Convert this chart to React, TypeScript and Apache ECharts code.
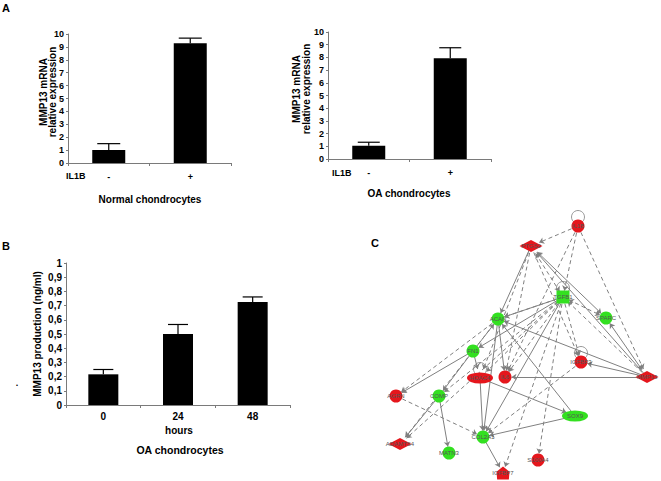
import React, { useEffect, useRef } from "react";
import * as echarts from "echarts";

// Panel A – normal chondrocytes
const normCats = ["-", "+"];
const normVals = [1.0, 9.28];
const normErr = [0.5, 0.4];
// Panel A – OA chondrocytes
const oaCats = ["-", "+"];
const oaVals = [1.05, 7.93];
const oaErr = [0.27, 0.83];
// Panel B – time course
const timeCats = ["0", "24", "48"];
const prodVals = [0.216, 0.5, 0.726];
const prodErr = [0.034, 0.067, 0.035];

// Panel C – network nodes
const nodeNames = ["IL1B", "PTGS2", "TGFB1", "SPARC", "ACAN", "FN1", "IGFBP3", "MMP13", "HDAC4", "IL6", "AGRN", "COMP", "SOX9", "COL2A1", "ADAMTS4", "MATN3", "S100A4", "IGFBP7"];
const nodeX = [578, 531, 563, 606, 498, 473, 581, 647, 480, 505, 396, 439, 575, 483, 400, 449, 538, 503];
const nodeY = [226, 246, 297, 318, 319, 351, 362, 377, 378, 377, 396, 396, 416, 437, 444, 453, 460, 473];
const nodeUp = [1, 1, 0, 0, 0, 0, 1, 1, 1, 1, 1, 0, 0, 0, 1, 0, 1, 1];
const nodeShape = ["circle", "diamond", "rect", "circle", "circle", "circle", "circle", "diamond", "ellipse", "circle", "circle", "circle", "ellipse", "circle", "diamond", "circle", "circle", "house"];
const selfLoops = ["IL1B", "TGFB1", "IGFBP3", "HDAC4"];
// [source, target, dashed, bidirectional]
const links: [string, string, number, number][] = [
  ["IL1B", "PTGS2", 1, 0], ["IL1B", "TGFB1", 1, 0], ["IL1B", "MMP13", 1, 0], ["IL1B", "IL6", 1, 0],
  ["PTGS2", "ACAN", 0, 0], ["PTGS2", "IL6", 1, 0], ["PTGS2", "HDAC4", 1, 0], ["PTGS2", "TGFB1", 1, 1],
  ["PTGS2", "SPARC", 0, 1], ["MMP13", "PTGS2", 0, 0], ["PTGS2", "IGFBP3", 1, 0],
  ["TGFB1", "ACAN", 1, 0], ["TGFB1", "SPARC", 1, 1], ["TGFB1", "FN1", 0, 0], ["TGFB1", "HDAC4", 1, 0],
  ["TGFB1", "IL6", 1, 0], ["TGFB1", "COL2A1", 0, 0], ["TGFB1", "ADAMTS4", 1, 0], ["TGFB1", "COMP", 1, 0],
  ["TGFB1", "IGFBP3", 1, 0], ["TGFB1", "S100A4", 1, 0], ["TGFB1", "IGFBP7", 1, 0], ["MMP13", "TGFB1", 1, 0],
  ["TGFB1", "ACAN", 0, 0], ["SPARC", "MMP13", 0, 1], ["MMP13", "ACAN", 0, 0], ["MMP13", "IL6", 0, 0],
  ["MMP13", "IGFBP3", 0, 0], ["IGFBP3", "COL2A1", 1, 0], ["HDAC4", "COL2A1", 0, 0], ["HDAC4", "SOX9", 0, 0],
  ["ACAN", "IL6", 0, 0], ["SOX9", "ACAN", 0, 0], ["ACAN", "AGRN", 1, 0], ["FN1", "ACAN", 0, 0],
  ["FN1", "AGRN", 0, 0], ["FN1", "COMP", 0, 0], ["FN1", "HDAC4", 0, 0], ["ACAN", "ADAMTS4", 1, 0],
  ["COMP", "MATN3", 0, 0], ["COMP", "ADAMTS4", 0, 0], ["AGRN", "COL2A1", 1, 0], ["SOX9", "COL2A1", 0, 0],
  ["COL2A1", "IGFBP7", 0, 0], ["ACAN", "COL2A1", 0, 0],
];

const FONT = "'Liberation Sans', Arial, sans-serif";
const RED = "#e5161c";
const GREEN = "#33e020";
const AXIS = "#7a7a7a";

const symbolFor = (shape: string) => {
  if (shape === "ellipse") return "path://M0 5a5 5 0 1 0 10 0a5 5 0 1 0 -10 0z";
  if (shape === "house") return "path://M5 0L10 4L9.5 10L0.5 10L0 4Z";
  return shape;
};
const sizeFor = (shape: string) => {
  if (shape === "ellipse") return [26, 11];
  if (shape === "diamond") return [23, 12];
  if (shape === "rect") return [13, 13];
  if (shape === "house") return [13, 13];
  return 13;
};

const errorSeries = (xi: number, vals: number[], errs: number[], cap: number) => ({
  type: "custom",
  xAxisIndex: xi,
  yAxisIndex: xi,
  z: 5,
  data: vals.map((v, i) => [i, v, errs[i]]),
  renderItem: (params: any, api: any) => {
    const i = api.value(0);
    const v = api.value(1);
    const e = api.value(2);
    const b = api.coord([i, v]);
    const t = api.coord([i, v + e]);
    return {
      type: "group",
      children: [
        { type: "line", shape: { x1: b[0], y1: b[1], x2: t[0], y2: t[1] }, style: { stroke: "#000", lineWidth: 1.2 } },
        { type: "line", shape: { x1: t[0] - cap / 2, y1: t[1], x2: t[0] + cap / 2, y2: t[1] }, style: { stroke: "#000", lineWidth: 1.2 } },
      ],
    };
  },
});

const catAxis = (gi: number, data: string[], margin: number, fs: number) => ({
  type: "category",
  gridIndex: gi,
  data,
  axisLine: { show: true, lineStyle: { color: AXIS, width: 1 } },
  axisTick: { show: true, length: 3, lineStyle: { color: AXIS } },
  axisLabel: { color: "#000", fontWeight: "bold", fontSize: fs, margin, fontFamily: FONT },
});

const valAxis = (gi: number, max: number, interval: number, fs: number, fmt?: (v: number) => string) => ({
  type: "value",
  gridIndex: gi,
  min: 0,
  max,
  interval,
  splitLine: { show: false },
  axisLine: { show: true, lineStyle: { color: AXIS, width: 1 } },
  axisTick: { show: true, length: 2, lineStyle: { color: AXIS } },
  axisLabel: { color: "#000", fontWeight: "bold", fontSize: fs, margin: 4, fontFamily: FONT, formatter: fmt },
});

const txt = (text: string, x: number, y: number, fs: number, extra: any = {}) => ({
  type: "text",
  x,
  y,
  ...extra,
  style: {
    text,
    fill: "#000",
    font: `bold ${fs}px ${FONT}`,
    textAlign: extra.align || "center",
    textVerticalAlign: "middle",
    lineHeight: extra.lh || fs,
  },
});

export default function App() {
  const ref = useRef<HTMLDivElement>(null);
  useEffect(() => {
    if (!ref.current) return;
    const chart = echarts.init(ref.current, undefined, { renderer: "svg" });
    const nodes = nodeNames.map((n, i) => ({
      name: n,
      value: [nodeX[i], nodeY[i]],
      symbol: symbolFor(nodeShape[i]),
      symbolSize: sizeFor(nodeShape[i]),
      itemStyle: { color: nodeUp[i] ? RED : GREEN },
    }));
    const graphLinks = links.map(([s, t, d, b]) => ({
      source: s,
      target: t,
      symbol: [b ? "arrow" : "none", "arrow"],
      symbolSize: 5,
      lineStyle: { type: d ? [4, 3] : "solid" },
    }));
    const loopData = selfLoops.map((n) => {
      const i = nodeNames.indexOf(n);
      return [nodeX[i], nodeY[i]];
    });
    const fmtComma = (v: number) => String(Number(v.toFixed(1))).replace(".", ",");

    chart.setOption({
      animation: false,
      backgroundColor: "#fff",
      grid: [
        { left: 68, top: 34, width: 163, height: 129 },
        { left: 328, top: 32, width: 163, height: 127 },
        { left: 66, top: 263, width: 224, height: 142 },
        { left: 0, top: 0, width: 661, height: 481 },
      ],
      xAxis: [
        catAxis(0, normCats, 9, 9),
        catAxis(1, oaCats, 9, 9),
        catAxis(2, timeCats, 6, 10),
        { type: "value", gridIndex: 3, min: 0, max: 661, show: false },
      ],
      yAxis: [
        valAxis(0, 10, 1, 9),
        valAxis(1, 10, 1, 9),
        valAxis(2, 1, 0.1, 10, fmtComma),
        { type: "value", gridIndex: 3, min: 0, max: 481, inverse: true, show: false },
      ],
      series: [
        { type: "bar", xAxisIndex: 0, yAxisIndex: 0, data: normVals, barWidth: 33, itemStyle: { color: "#000" } },
        errorSeries(0, normVals, normErr, 23),
        { type: "bar", xAxisIndex: 1, yAxisIndex: 1, data: oaVals, barWidth: 33, itemStyle: { color: "#000" } },
        errorSeries(1, oaVals, oaErr, 22),
        { type: "bar", xAxisIndex: 2, yAxisIndex: 2, data: prodVals, barWidth: 30, itemStyle: { color: "#000" } },
        errorSeries(2, prodVals, prodErr, 20),
        {
          type: "scatter",
          xAxisIndex: 3,
          yAxisIndex: 3,
          z: 1,
          data: loopData,
          symbol: "circle",
          symbolSize: 13,
          symbolOffset: [0, -9],
          itemStyle: { color: "rgba(0,0,0,0)", borderColor: "#808080", borderWidth: 1 },
        },
        {
          type: "graph",
          coordinateSystem: "cartesian2d",
          xAxisIndex: 3,
          yAxisIndex: 3,
          z: 2,
          data: nodes,
          links: graphLinks,
          edgeSymbol: ["none", "arrow"],
          edgeSymbolSize: 5,
          lineStyle: { color: "#808080", width: 1, opacity: 1, curveness: 0 },
          label: { show: true, position: "inside", fontSize: 6, color: "#555", fontFamily: FONT },
        },
      ],
      graphic: [
        txt("A", 2, 8, 11, { align: "left" }),
        txt("B", 2, 246, 11, { align: "left" }),
        txt("C", 371, 243, 11, { align: "left" }),
        txt("MMP13 mRNA\nrelative expression", 48, 92, 10, { rotation: Math.PI / 2, lh: 9 }),
        txt("MMP13 mRNA\nrelative expression", 301, 89, 10, { rotation: Math.PI / 2, lh: 10 }),
        txt("MMP13 production (ng/ml)", 37, 334, 10, { rotation: Math.PI / 2 }),
        txt("IL1B", 66, 176, 9, { align: "left" }),
        txt("IL1B", 332, 173, 9, { align: "left" }),
        txt("Normal chondrocytes", 150, 199, 10),
        txt("OA chondrocytes", 409, 193, 10),
        txt("hours", 179, 430, 10),
        txt("OA chondrocytes", 180, 450, 10.5),
        txt(".", 17, 383, 9),
      ],
    });
    return () => chart.dispose();
  }, []);
  return (
    <div
      ref={ref}
      style={{ position: "fixed", left: 0, top: 0, width: 661, height: 481, background: "#fff" }}
    />
  );
}
